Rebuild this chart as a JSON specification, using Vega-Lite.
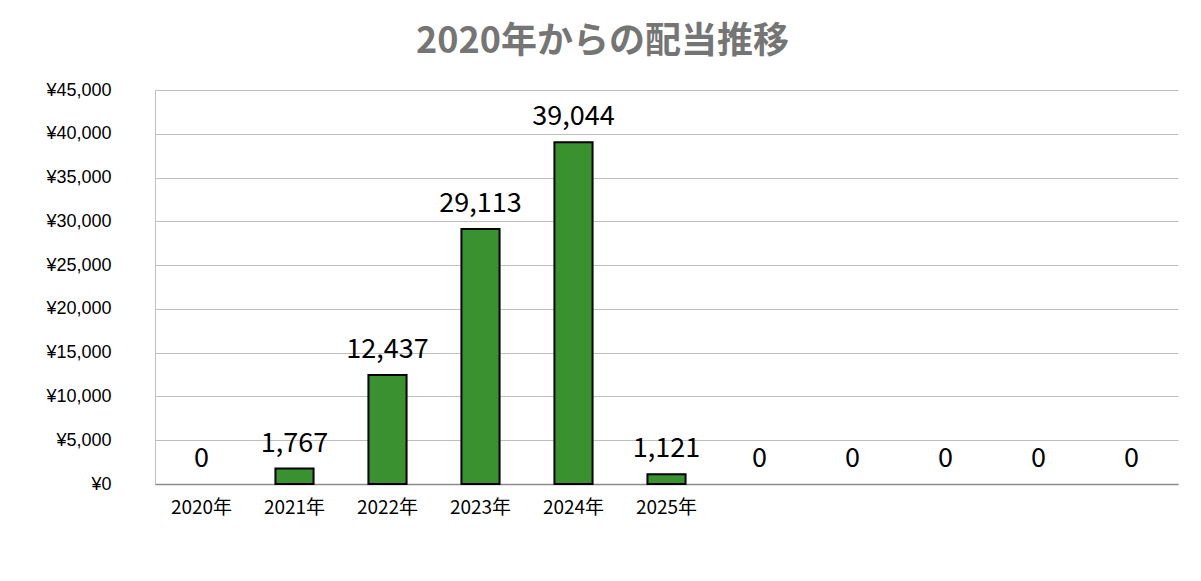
{
  "$schema": "https://vega.github.io/schema/vega-lite/v6.json",
  "autosize": {"type": "fit", "contains": "padding"},
  "width": 1201,
  "height": 581,
  "padding": {"left": 45, "right": 23, "top": 24, "bottom": 52},
  "background": "white",
  "title": {
    "text": "2020年からの配当推移",
    "font": "Noto Sans CJK JP",
    "fontSize": 36,
    "fontWeight": "bold",
    "color": "#757575",
    "anchor": "middle",
    "dx": -64,
    "offset": 20
  },
  "data": {
    "values": [
      {"year": "2020年", "dividend": 0},
      {"year": "2021年", "dividend": 1767},
      {"year": "2022年", "dividend": 12437},
      {"year": "2023年", "dividend": 29113},
      {"year": "2024年", "dividend": 39044},
      {"year": "2025年", "dividend": 1121},
      {"year": "x7", "dividend": 0},
      {"year": "x8", "dividend": 0},
      {"year": "x9", "dividend": 0},
      {"year": "x10", "dividend": 0},
      {"year": "x11", "dividend": 0}
    ]
  },
  "encoding": {
    "x": {
      "field": "year",
      "type": "nominal",
      "sort": null,
      "title": null,
      "scale": {"paddingInner": 0.59, "paddingOuter": 0.295},
      "axis": {
        "labelAngle": 0,
        "labelExpr": "test(/^x/, datum.value) ? '' : datum.value",
        "labelFont": "Noto Sans CJK JP",
        "labelFontSize": 19,
        "labelColor": "#000000",
        "labelPadding": 14,
        "ticks": false,
        "domainColor": "#8c8c8c",
        "domainWidth": 1.5,
        "minExtent": 45,
        "maxExtent": 45
      }
    },
    "y": {
      "field": "dividend",
      "type": "quantitative",
      "title": null,
      "scale": {"domain": [0, 45000], "nice": false},
      "axis": {
        "values": [0, 5000, 10000, 15000, 20000, 25000, 30000, 35000, 40000, 45000],
        "labelExpr": "'¥' + format(datum.value, ',')",
        "labelFont": "Liberation Sans",
        "labelFontSize": 18,
        "labelColor": "#000000",
        "labelPadding": 44,
        "ticks": false,
        "domainColor": "#bfbfbf",
        "gridColor": "#bfbfbf",
        "grid": true,
        "minExtent": 110,
        "maxExtent": 110
      }
    }
  },
  "layer": [
    {
      "mark": {"type": "bar", "color": "#3a9130", "stroke": "#000000", "strokeWidth": 2},
      "encoding": {
        "strokeOpacity": {"condition": {"test": "datum.dividend == 0", "value": 0}, "value": 1}
      }
    },
    {
      "mark": {
        "type": "text",
        "font": "Noto Sans CJK JP",
        "fontSize": 27,
        "color": "#000000",
        "baseline": "middle",
        "dy": -25
      },
      "encoding": {
        "text": {"field": "dividend", "type": "quantitative", "format": ","}
      }
    }
  ],
  "config": {
    "view": {"stroke": null}
  }
}
